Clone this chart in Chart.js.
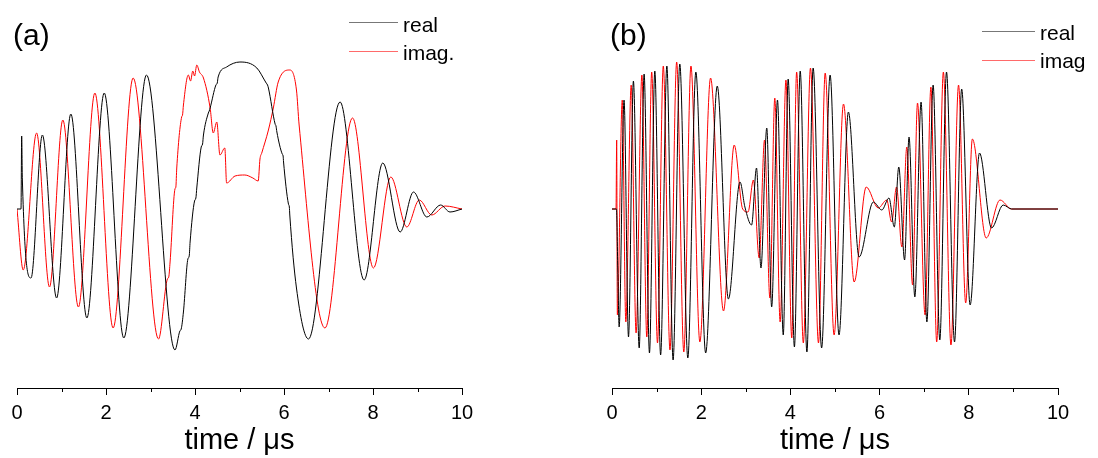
<!DOCTYPE html>
<html>
<head>
<meta charset="utf-8">
<script src="https://cdn.jsdelivr.net/npm/chart.js@4"></script>
<style>
html, body { margin: 0; padding: 0; background: #fff; }
body { width: 1098px; height: 458px; position: relative; overflow: hidden; font-family: "Liberation Sans", Arial, sans-serif; color: #000; }
canvas { position: absolute; top: 0; }
.panel { position: absolute; font-size: 30px; line-height: 30px; }
.leg { position: absolute; font-size: 21px; line-height: 21px; }
.legline { position: absolute; height: 1px; }
</style>
</head>
<body>
<canvas id="chartA" width="549" height="458" style="left:0"></canvas>
<canvas id="chartB" width="549" height="458" style="left:549px"></canvas>

<div class="panel" style="left:13px;top:20px">(a)</div>
<div class="panel" style="left:610px;top:20px">(b)</div>

<div class="legline" style="left:349px;top:22px;width:49px;background:#777"></div>
<div class="leg" style="left:403px;top:14px">real</div>
<div class="legline" style="left:349px;top:51px;width:49px;background:#ff6a6a"></div>
<div class="leg" style="left:403px;top:42px">imag.</div>

<div class="legline" style="left:982px;top:31px;width:53px;background:#777"></div>
<div class="leg" style="left:1040px;top:22px">real</div>
<div class="legline" style="left:982px;top:60px;width:53px;background:#ff6a6a"></div>
<div class="leg" style="left:1040px;top:50px">imag</div>

<script>
// (a) 시간축 / 값 (임의 단위)
const aRealT = [0, 0.09, 0.105, 0.12, 0.315, 0.57, 0.89, 1.21, 1.57, 1.96, 2.40, 2.91, 3.55, 3.66, 3.69, 3.74, 3.84, 3.87, 3.89, 3.99, 4.02, 4.04, 4.14, 4.17, 4.19, 4.30, 4.32, 4.34, 4.47, 4.50, 4.52, 4.71, 5.01, 5.39, 5.60, 5.63, 5.65, 5.80, 5.82, 5.84, 5.96, 5.98, 5.99, 6.10, 6.12, 6.13, 6.28, 6.55, 7.26, 7.80, 8.22, 8.61, 8.91, 9.21, 9.52, 9.73, 10];
const aRealV = [0, 0, 73, 30, -69, 74, -89, 95, -109, 116, -129, 134, -141, -122, -120, -103, -50, -47, -33, 8, 11, 21, 62, 65, 74, 96, 98, 101, 124, 126, 132, 142, 147, 141, 126, 124, 121, 85, 83, 77, 55, 53, 47, 5, 2, -6, -79, -130, 107, -71, 46, -23, 17, -8, 4, -3, 0];
const aImagT = [0, 0.14, 0.44, 0.73, 1.03, 1.38, 1.75, 2.16, 2.61, 3.18, 3.38, 3.41, 3.44, 3.55, 3.57, 3.59, 3.70, 3.72, 3.74, 3.85, 3.90, 3.95, 3.99, 4.04, 4.10, 4.19, 4.34, 4.41, 4.49, 4.56, 4.67, 4.71, 4.9, 5.12, 5.30, 5.42, 5.46, 5.5, 5.65, 5.76, 5.87, 6.13, 6.28, 6.34, 6.92, 7.54, 8.01, 8.40, 8.76, 9.04, 9.32, 9.62, 10];
const aImagV = [0, -61, 76, -78, 89, -98, 116, -119, 131, -130, -70, -68, -53, 20, 22, 41, 92, 94, 104, 134, 128, 138, 133, 144, 137, 131, 101, 76, 87, 54, 61, 26, 33, 34, 31, 28, 50, 56, 79, 101, 127, 139, 119, 84, -119, 91, -59, 32, -18, 9, -6, 3, 0];

// (b)
const bRealT = [0, 0.1, 0.13, 0.16, 0.27, 0.37, 0.48, 0.61, 0.72, 0.84, 0.96, 1.09, 1.23, 1.37, 1.52, 1.70, 1.88, 2.10, 2.36, 2.61, 2.87, 2.98, 3.13, 3.24, 3.34, 3.47, 3.58, 3.71, 3.84, 3.95, 4.09, 4.22, 4.37, 4.51, 4.70, 4.89, 5.09, 5.30, 5.54, 5.86, 6.05, 6.21, 6.33, 6.43, 6.56, 6.66, 6.79, 6.93, 7.06, 7.20, 7.35, 7.50, 7.68, 7.84, 8.03, 8.24, 8.51, 8.77, 8.96, 10];
const bRealV = [0, 0, -60, -118, 109, -128, 128, -139, 135, -144, 138, -146, 143, -151, 145, -149, 137, -144, 123, -90, 27, 2, -16, 41, -59, 81, -98, 109, -126, 130, -138, 138, -143, 141, -139, 134, -126, 97, -48, 7, -1, 11, -18, 42, -51, 72, -88, 107, -113, 124, -131, 137, -133, 120, -96, 56, -19, 4, 0, 0];
const bImagT = [0, 0.09, 0.105, 0.12, 0.23, 0.31, 0.43, 0.54, 0.67, 0.78, 0.89, 1.02, 1.15, 1.30, 1.45, 1.61, 1.77, 1.97, 2.21, 2.50, 2.74, 2.93, 3.05, 3.17, 3.30, 3.42, 3.54, 3.65, 3.77, 3.90, 4.03, 4.14, 4.29, 4.45, 4.63, 4.78, 4.98, 5.19, 5.43, 5.70, 5.97, 6.16, 6.27, 6.38, 6.50, 6.61, 6.74, 6.85, 7.02, 7.15, 7.28, 7.43, 7.60, 7.77, 7.93, 8.08, 8.39, 8.70, 8.96, 10];
const bImagV = [0, 0, 69, -106, 109, -113, 124, -124, 134, -128, 137, -134, 143, -141, 147, -143, 143, -133, 131, -102, 64, 0, -3, 29, -49, 69, -89, 111, -113, 129, -129, 137, -134, 141, -134, 136, -126, 105, -73, 22, 1, 9, -13, 22, -38, 62, -76, 106, -106, 122, -133, 137, -136, 124, -94, 70, -29, 9, 0, 0];

const minorTickValues = [1, 3, 5, 7, 9];

const FONT = '"Liberation Sans", Arial, sans-serif';

const toPoints = (ts, vs) => ts.map((t, i) => ({ x: t, y: vs[i] }));

// 보조 눈금
const minorTicks = {
    id: 'minorTicks',
    afterDraw(chart) {
        const xs = chart.scales.x;
        const ctx = chart.ctx;
        const y0 = chart.chartArea.bottom;
        ctx.save();
        ctx.strokeStyle = '#000';
        ctx.lineWidth = 1;
        minorTickValues.forEach(v => {
            const px = Math.round(xs.getPixelForValue(v)) + 0.5;
            ctx.beginPath();
            ctx.moveTo(px, y0);
            ctx.lineTo(px, y0 + 4);
            ctx.stroke();
        });
        ctx.restore();
    }
};

const makeChart = (id, realT, realV, imagT, imagV, padLeft, padRight) => {
    const ctx = document.getElementById(id).getContext('2d');
    const line = (label, pts, color) => ({
        label,
        data: pts,
        borderColor: color,
        backgroundColor: color,
        borderWidth: 1,
        pointRadius: 0,
        tension: 0.4,
        cubicInterpolationMode: 'monotone',
        fill: false
    });
    return new Chart(ctx, {
        type: 'line',
        data: {
            datasets: [
                line('real', toPoints(realT, realV), '#000000'),
                line('imag', toPoints(imagT, imagV), '#ff0000')
            ]
        },
        options: {
            responsive: false,
            animation: false,
            events: [],
            layout: { padding: { left: padLeft, right: padRight, top: 40, bottom: 0 } },
            plugins: { legend: { display: false }, tooltip: { enabled: false } },
            scales: {
                x: {
                    type: 'linear',
                    min: 0,
                    max: 10,
                    afterFit: s => { s.height = 70; },
                    border: { display: true, color: '#000', width: 1 },
                    grid: { drawOnChartArea: false, drawTicks: true, tickLength: 7, color: '#000', lineWidth: 1 },
                    ticks: { stepSize: 2, padding: 6, color: '#000', maxRotation: 0, autoSkip: false, font: { family: FONT, size: 20 } },
                    title: { display: true, text: 'time / μs', color: '#000', padding: { top: 0, bottom: 0 }, font: { family: FONT, size: 29 } }
                },
                y: { display: false, min: -179, max: 169 }
            }
        },
        plugins: [minorTicks]
    });
};

makeChart('chartA', aRealT, aRealV, aImagT, aImagV, 17, 87);
makeChart('chartB', bRealT, bRealV, bImagT, bImagV, 63, 40);
</script>
</body>
</html>
